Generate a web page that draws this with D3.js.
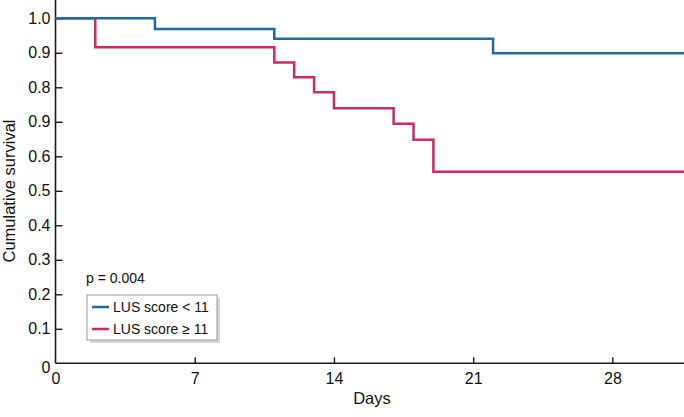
<!DOCTYPE html>
<html><head><meta charset="utf-8">
<script src="https://cdn.jsdelivr.net/npm/d3@7/dist/d3.min.js"></script>
<style>html,body{margin:0;padding:0;background:#fff;}svg{display:block;font-family:"Liberation Sans",Arial,sans-serif;}</style>
</head><body>
<svg id="chart" width="684" height="417"></svg>
<script>
// Data
const lowDays = [0, 5, 11, 22];
const lowSurv = [1.0, 0.969, 0.941, 0.899];
const highDays = [0, 2, 11, 12, 13, 14, 17, 18, 19];
const highSurv = [1.0, 0.916, 0.872, 0.829, 0.786, 0.739, 0.694, 0.648, 0.555];
const endDay = 31.6;
const xTicks = [0, 7, 14, 21, 28];
const yTicks = [0, 0.1, 0.2, 0.3, 0.4, 0.5, 0.6, 0.7, 0.8, 0.9, 1.0];
const yTickLabels = ["0", "0.1", "0.2", "0.3", "0.4", "0.5", "0.6", "0.9", "0.8", "0.9", "1.0"];
const seriesNames = ["LUS score < 11", "LUS score \u2265 11"];
const seriesColors = ["#1f6a9e", "#cc2a63"];
const pText = "p = 0.004";

const svg = d3.select("#chart");
const x = d3.scaleLinear().domain([0, endDay]).range([55.5, 684]);
const y = d3.scaleLinear().domain([0, 1]).range([363.3, 18.3]);

function steps(days, surv) {
  const pts = days.map((d, i) => [d, surv[i]]);
  pts.push([endDay, surv[surv.length - 1]]);
  return pts;
}
const line = d3.line().x(d => x(d[0])).y(d => y(d[1])).curve(d3.curveStepAfter);

// Axes
const axisColor = "#1a1a1a";
const xAxis = svg.append("g").attr("transform", `translate(0,${y(0)})`)
  .call(d3.axisBottom(x).tickValues(xTicks).tickSizeInner(-6).tickSizeOuter(0).tickPadding(9).tickFormat(d3.format("d")));
const yAxis = svg.append("g").attr("transform", `translate(${x(0)},0)`)
  .call(d3.axisLeft(y).tickValues(yTicks).tickSizeInner(-7).tickSizeOuter(0).tickPadding(5)
    .tickFormat((d, i) => yTickLabels[i]));
[xAxis, yAxis].forEach(g => {
  g.select(".domain").attr("stroke", axisColor).attr("stroke-width", 1.6);
  g.selectAll(".tick line").attr("stroke", axisColor).attr("stroke-width", 1.4);
  g.selectAll(".tick text").attr("fill", "#111").style("font-size", "16px");
});
xAxis.selectAll(".tick").filter(d => d === 0).select("line").remove();
yAxis.selectAll(".tick").filter(d => d === 0).select("line").remove();
yAxis.selectAll(".tick").filter(d => d === 0).select("text").attr("dy", "0.55em");
xAxis.select(".domain").attr("d", `M${x(0)},0H684`);
yAxis.select(".domain").attr("d", `M0,0V${y(0)}`);

// Series
svg.append("path").datum(steps(highDays, highSurv)).attr("d", line)
  .attr("fill", "none").attr("stroke", seriesColors[1]).attr("stroke-width", 2.5);
svg.append("path").datum(steps(lowDays, lowSurv)).attr("d", line)
  .attr("fill", "none").attr("stroke", seriesColors[0]).attr("stroke-width", 2.5);

// Axis titles
svg.append("text").attr("x", 372).attr("y", 404).attr("text-anchor", "middle")
  .style("font-size", "16.5px").attr("fill", "#111").text("Days");
svg.append("text").attr("transform", "translate(15,191) rotate(-90)").attr("text-anchor", "middle")
  .style("font-size", "16.5px").attr("fill", "#111").text("Cumulative survival");

// p value
svg.append("text").attr("x", 86).attr("y", 283).style("font-size", "14px").attr("fill", "#111").text(pText);

// Legend
const lg = svg.append("g");
lg.append("rect").attr("x", 90).attr("y", 298).attr("width", 130).attr("height", 45).attr("fill", "#bbb").attr("opacity", 0.6);
lg.append("rect").attr("x", 87).attr("y", 295).attr("width", 130).attr("height", 45).attr("fill", "#fff").attr("stroke", "#999").attr("stroke-width", 1);
seriesNames.forEach((name, i) => {
  const yy = 307 + i * 22;
  lg.append("line").attr("x1", 92).attr("x2", 109).attr("y1", yy).attr("y2", yy)
    .attr("stroke", seriesColors[i]).attr("stroke-width", 2.5);
  lg.append("text").attr("x", 113).attr("y", yy + 5).style("font-size", "14px").attr("fill", "#111").text(name);
});
</script>
</body></html>
